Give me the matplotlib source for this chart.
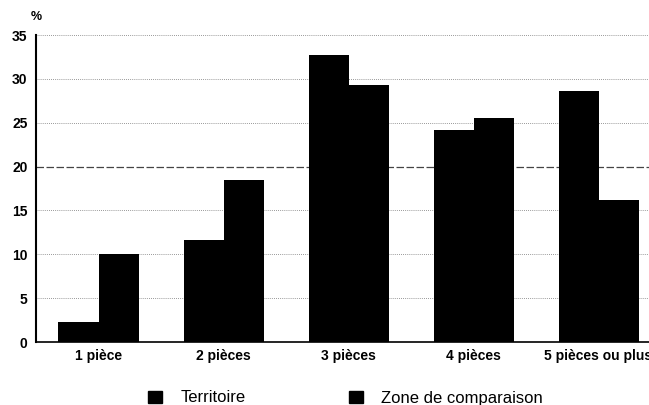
import matplotlib
matplotlib.use("Agg")
import matplotlib.pyplot as plt
import numpy as np
from matplotlib.patches import Patch

plt.rcParams['font.family'] = ['Liberation Sans', 'DejaVu Sans']

# données
categories = ["1 pièce", "2 pièces", "3 pièces", "4 pièces", "5 pièces ou plus"]
territoire = [2.3, 11.6, 32.7, 24.2, 28.6]
zone_comparaison = [10.0, 18.5, 29.3, 25.5, 16.2]
yticks = [0, 5, 10, 15, 20, 25, 30, 35]

fig = plt.figure(figsize=(6.49, 4.05), dpi=100)
ax = fig.add_axes([36 / 649, 1 - 342 / 405, 1 - 36 / 649, (342 - 35) / 405])

x = np.arange(len(categories))
w = 0.32
ax.bar(x - w / 2, territoire, width=w, color="black", zorder=3)
ax.bar(x + w / 2, zone_comparaison, width=w, color="black", zorder=3)

# grille pointillée, ligne 20 plus marquée
for y in yticks[1:]:
    if y == 20:
        ax.axhline(y, color="#444", linestyle=(0, (6, 2)), linewidth=0.9, zorder=1)
    else:
        ax.axhline(y, color="#777", linestyle=(0, (1, 1.5)), linewidth=0.6, zorder=1)

ax.set_xlim(-0.5, (649 - 36) / 125 - 0.5)
ax.set_ylim(0, 35)
ax.set_yticks(yticks)
ax.set_yticklabels([str(v) for v in yticks], fontsize=10, fontweight="bold")
ax.set_xticks(x)
ax.set_xticklabels(categories, fontsize=10, fontweight="bold")
ax.tick_params(axis="both", length=0, pad=5)
ax.tick_params(axis="y", pad=6)

for s in ["top", "right"]:
    ax.spines[s].set_visible(False)
ax.spines["left"].set_linewidth(1.5)
ax.spines["bottom"].set_linewidth(1.2)

fig.text(31 / 649, 1 - 17 / 405, "%", fontsize=9, fontweight="bold", ha="left", va="center")

handles = [Patch(color="black", label="Territoire"),
           Patch(color="black", label="Zone de comparaison")]
fig.legend(handles=handles, loc="center left", bbox_to_anchor=(148 / 649, 1 - 398 / 405),
           ncol=2, frameon=False, fontsize=12, handlelength=0.85, handleheight=0.75,
           handletextpad=1.1, columnspacing=6.2, borderaxespad=0, borderpad=0)

fig.savefig("out.png", dpi=100)
